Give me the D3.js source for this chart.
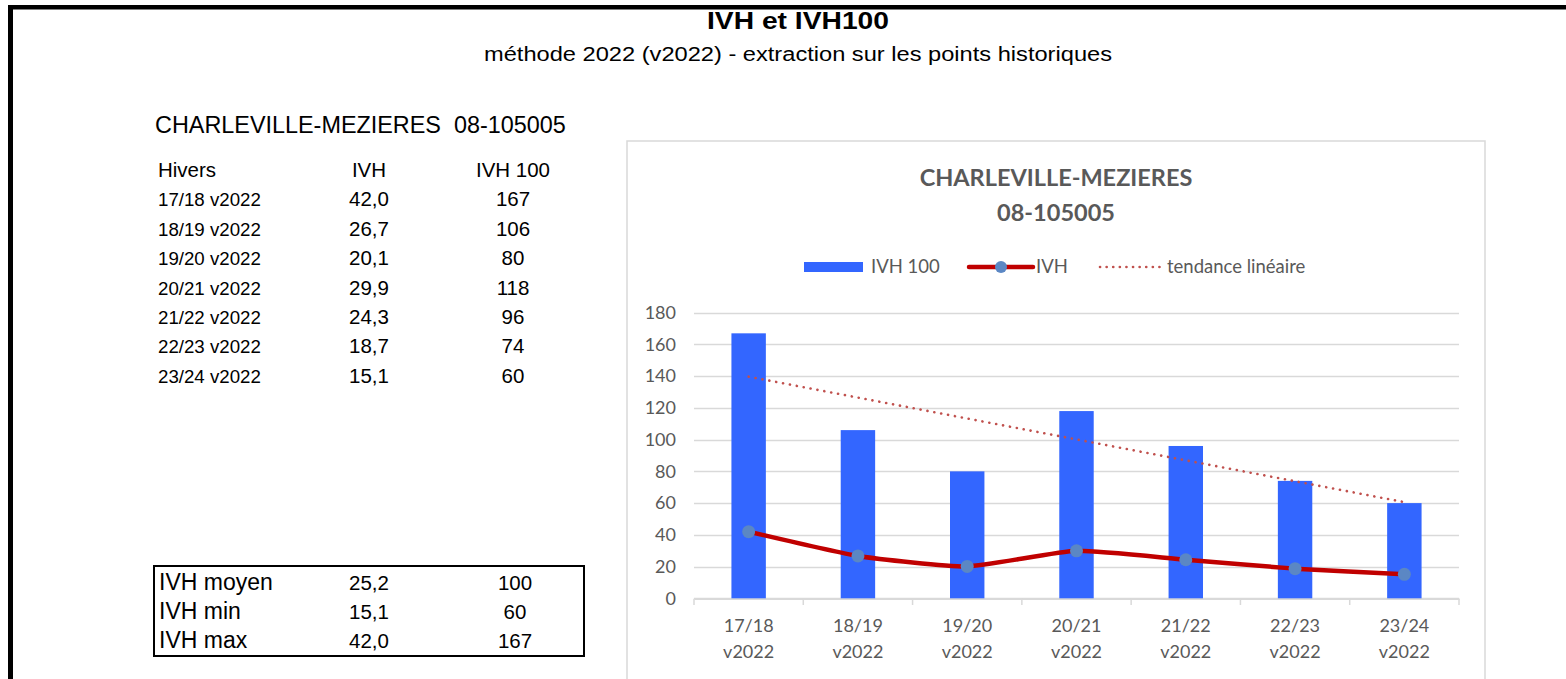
<!DOCTYPE html>
<html>
<head>
<meta charset="utf-8">
<script src="https://cdn.jsdelivr.net/npm/d3@7"></script>
<style>
  body { margin: 0; background: #fff; }
  svg { display: block; }
</style>
</head>
<body>
<script>
"use strict";

// data
const hivers = ["17/18 v2022", "18/19 v2022", "19/20 v2022", "20/21 v2022", "21/22 v2022", "22/23 v2022", "23/24 v2022"];
const ivh = [42.0, 26.7, 20.1, 29.9, 24.3, 18.7, 15.1];
const ivh100 = [167, 106, 80, 118, 96, 74, 60];
const statLabels = ["IVH moyen", "IVH min", "IVH max"];
const statIvh = [25.2, 15.1, 42.0];
const statIvh100 = [100, 60, 167];
const yTicks = [0, 20, 40, 60, 80, 100, 120, 140, 160, 180];
const station = "CHARLEVILLE-MEZIERES";
const stationCode = "08-105005";

const W = 1566, H = 679;
const fr = d3.formatLocale({ decimal: ",", thousands: " ", grouping: [3], currency: ["", "€"] });
const f1 = fr.format(".1f");
const f0 = fr.format(".0f");

const svg = d3.select("body").append("svg")
    .attr("width", W)
    .attr("height", H);

svg.append("rect").attr("width", W).attr("height", H).attr("fill", "#fff");

// outer frame (top + left edges visible)
svg.append("rect").attr("x", 8).attr("y", 5).attr("width", W - 8).attr("height", 4.5).attr("fill", "#000");
svg.append("rect").attr("x", 8).attr("y", 5).attr("width", 5).attr("height", H - 5).attr("fill", "#000");

// page titles
svg.append("text")
    .attr("x", 798).attr("y", 29)
    .attr("text-anchor", "middle")
    .attr("font-family", "Liberation Sans, Arial, sans-serif")
    .attr("font-weight", "bold")
    .attr("font-size", 24)
    .attr("textLength", 182).attr("lengthAdjust", "spacingAndGlyphs")
    .text("IVH et IVH100");

svg.append("text")
    .attr("x", 798).attr("y", 61)
    .attr("text-anchor", "middle")
    .attr("font-family", "Liberation Sans, Arial, sans-serif")
    .attr("font-size", 19.5)
    .attr("textLength", 628).attr("lengthAdjust", "spacingAndGlyphs")
    .text("méthode 2022 (v2022) - extraction sur les points historiques");

// left table
const left = svg.append("g").attr("font-family", "Liberation Sans, Arial, sans-serif").attr("fill", "#000");

left.append("text")
    .attr("x", 155).attr("y", 133)
    .attr("font-size", 23.4)
    .attr("xml:space", "preserve")
    .text(station + "  " + stationCode);

const colIvh = 369, colIvh100 = 513;
const rowY = d3.scaleLinear().domain([0, 1]).range([177, 206.4]);

const head = left.append("g").attr("font-size", 20.5);
head.append("text").attr("x", 158).attr("y", rowY(0)).text("Hivers");
head.append("text").attr("x", colIvh).attr("y", rowY(0)).attr("text-anchor", "middle").text("IVH");
head.append("text").attr("x", colIvh100).attr("y", rowY(0)).attr("text-anchor", "middle").text("IVH 100");

hivers.forEach(function (h, i) {
    const y = rowY(i + 1);
    left.append("text").attr("x", 158).attr("y", y).attr("font-size", 18.7).text(h);
    left.append("text").attr("x", colIvh).attr("y", y).attr("font-size", 20.5).attr("text-anchor", "middle").text(f1(ivh[i]));
    left.append("text").attr("x", colIvh100).attr("y", y).attr("font-size", 20.5).attr("text-anchor", "middle").text(f0(ivh100[i]));
});

// stats box
left.append("rect")
    .attr("x", 154).attr("y", 566).attr("width", 430).attr("height", 90)
    .attr("fill", "none").attr("stroke", "#000").attr("stroke-width", 2);

const statY = d3.scaleLinear().domain([0, 1]).range([589.5, 618.7]);
statLabels.forEach(function (s, i) {
    const y = statY(i);
    left.append("text").attr("x", 159).attr("y", y).attr("font-size", 23).text(s);
    left.append("text").attr("x", colIvh).attr("y", y).attr("font-size", 20.5).attr("text-anchor", "middle").text(f1(statIvh[i]));
    left.append("text").attr("x", colIvh100 + 2).attr("y", y).attr("font-size", 20.5).attr("text-anchor", "middle").text(f0(statIvh100[i]));
});

// chart frame
const chart = svg.append("g").attr("font-family", "Lato, 'Open Sans', sans-serif");
chart.append("rect")
    .attr("x", 627).attr("y", 141).attr("width", 858).attr("height", 560)
    .attr("fill", "#fff").attr("stroke", "#d9d9d9").attr("stroke-width", 1.5);

chart.append("text")
    .attr("x", 1056).attr("y", 186)
    .attr("text-anchor", "middle").attr("font-weight", "bold").attr("font-size", 23.5).attr("fill", "#595959")
    .text(station);
chart.append("text")
    .attr("x", 1056).attr("y", 221)
    .attr("text-anchor", "middle").attr("font-weight", "bold").attr("font-size", 23.5).attr("fill", "#595959")
    .text(stationCode);

const x = d3.scaleBand().domain(hivers).range([694, 1459]).padding(0);
const y = d3.scaleLinear().domain([0, 180]).range([598.3, 312.7]);
const cx = function (d) { return x(d) + x.bandwidth() / 2; };
const barW = x.bandwidth() * 0.315;

// gridlines
chart.append("g")
    .selectAll("line")
    .data(yTicks)
    .join("line")
    .attr("x1", 694).attr("x2", 1459)
    .attr("y1", function (d) { return Math.round(y(d)) + 0.5; })
    .attr("y2", function (d) { return Math.round(y(d)) + 0.5; })
    .attr("stroke", "#d9d9d9").attr("stroke-width", 1.3);

// y axis labels
const yAxis = chart.append("g")
    .attr("transform", "translate(676,0)")
    .call(d3.axisLeft(y).tickValues(yTicks).tickSize(0).tickPadding(0));
yAxis.select(".domain").remove();
yAxis.selectAll("text").attr("font-family", "Lato, 'Open Sans', sans-serif").attr("font-size", 18).attr("fill", "#595959");

// x axis
const xAxis = chart.append("g")
    .attr("transform", "translate(0,598.8)")
    .call(d3.axisBottom(x).tickSize(0).tickFormat(""));
xAxis.select(".domain").attr("stroke", "#d9d9d9").attr("stroke-width", 1.5);
xAxis.selectAll(".tick").remove();

chart.append("g")
    .selectAll("line")
    .data(hivers.concat(["end"]))
    .join("line")
    .attr("x1", function (d, i) { return i < hivers.length ? x(d) : x.range()[1]; })
    .attr("x2", function (d, i) { return i < hivers.length ? x(d) : x.range()[1]; })
    .attr("y1", 598.8).attr("y2", 605)
    .attr("stroke", "#d9d9d9").attr("stroke-width", 1.5);

const xl = chart.append("g").attr("font-size", 18).attr("fill", "#595959").attr("text-anchor", "middle");
hivers.forEach(function (h) {
    const parts = h.split(" ");
    xl.append("text").attr("x", cx(h)).attr("y", 632).text(parts[0]);
    xl.append("text").attr("x", cx(h)).attr("y", 658).text(parts[1]);
});

// bars
chart.append("g")
    .selectAll("rect")
    .data(hivers)
    .join("rect")
    .attr("x", function (d) { return cx(d) - barW / 2; })
    .attr("width", barW)
    .attr("y", function (d, i) { return y(ivh100[i]); })
    .attr("height", function (d, i) { return y(0) - y(ivh100[i]); })
    .attr("fill", "#3366ff");

// linear trend of IVH 100 (least squares, as the spreadsheet does)
const idx = d3.range(ivh100.length);
const mx = d3.mean(idx), my = d3.mean(ivh100);
const slope = d3.sum(idx, function (i) { return (i - mx) * (ivh100[i] - my); }) / d3.sum(idx, function (i) { return (i - mx) * (i - mx); });
const icpt = my - slope * mx;
const trend = [0, ivh100.length - 1].map(function (i) { return [cx(hivers[i]), y(icpt + slope * i)]; });

chart.append("path")
    .attr("d", d3.line()(trend))
    .attr("fill", "none")
    .attr("stroke", "#c0504d")
    .attr("stroke-width", 2.6)
    .attr("stroke-linecap", "round")
    .attr("stroke-dasharray", "0.1 6.9");

// IVH line (lightly smoothed)
const line = d3.line()
    .x(function (d, i) { return cx(hivers[i]); })
    .y(function (d) { return y(d); })
    .curve(d3.curveCardinal.tension(0.5));

chart.append("path")
    .datum(ivh)
    .attr("d", line)
    .attr("fill", "none")
    .attr("stroke", "#c00000")
    .attr("stroke-width", 4.5)
    .attr("stroke-linejoin", "round");

chart.append("g")
    .selectAll("circle")
    .data(ivh)
    .join("circle")
    .attr("cx", function (d, i) { return cx(hivers[i]); })
    .attr("cy", function (d) { return y(d); })
    .attr("r", 6.5)
    .attr("fill", "#5b87c4");

// legend
const lg = chart.append("g").attr("font-size", 18.5).attr("fill", "#595959");
const ly = 267;
lg.append("rect").attr("x", 804).attr("y", ly - 5).attr("width", 59).attr("height", 10).attr("fill", "#3366ff");
lg.append("text").attr("x", 871).attr("y", ly + 6).text("IVH 100");
lg.append("line").attr("x1", 969).attr("x2", 1033).attr("y1", ly).attr("y2", ly)
    .attr("stroke", "#c00000").attr("stroke-width", 4.5).attr("stroke-linecap", "round");
lg.append("circle").attr("cx", 1001).attr("cy", ly).attr("r", 6).attr("fill", "#5b87c4");
lg.append("text").attr("x", 1036).attr("y", ly + 6).text("IVH");
lg.append("line").attr("x1", 1100).attr("x2", 1160).attr("y1", ly).attr("y2", ly)
    .attr("stroke", "#c0504d").attr("stroke-width", 2.6).attr("stroke-linecap", "round").attr("stroke-dasharray", "0.1 6.5");
lg.append("text").attr("x", 1167).attr("y", ly + 6).text("tendance linéaire");
</script>
</body>
</html>
